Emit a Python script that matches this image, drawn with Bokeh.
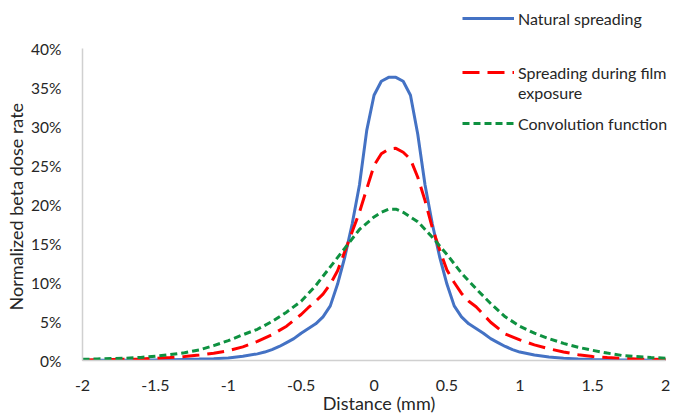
from bokeh.plotting import figure
from bokeh.models import Range1d, FixedTicker, NumeralTickFormatter, Legend, LegendItem, Title
from bokeh.embed import file_html
from bokeh.resources import INLINE

# ---- data ----
x_natural = [-2.0, -1.9, -1.8, -1.7, -1.6, -1.5, -1.4, -1.3, -1.2, -1.1, -1.0, -0.9, -0.8,
             -0.75, -0.7, -0.65, -0.6, -0.55, -0.5, -0.45, -0.4, -0.35, -0.3, -0.25, -0.2,
             -0.15, -0.1, -0.05, 0.0, 0.05, 0.1, 0.15, 0.2, 0.25, 0.3, 0.35, 0.4, 0.45, 0.5,
             0.55, 0.6, 0.65, 0.7, 0.75, 0.8, 0.85, 0.9, 0.95, 1.0, 1.1, 1.2, 1.3, 1.4, 1.5,
             1.6, 1.7, 1.8, 1.9, 2.0]
y_natural = [0.01, 0.02, 0.03, 0.04, 0.06, 0.08, 0.10, 0.14, 0.18, 0.24, 0.33, 0.55, 0.85,
             1.08, 1.4, 1.8, 2.3, 2.8, 3.5, 4.1, 4.7, 5.6, 7.0, 9.8, 13.3,
             17.5, 22.5, 29.5, 34.0, 35.8, 36.3, 36.3, 35.8, 34.0, 29.0, 22.5, 17.5, 13.3, 9.8,
             7.0, 5.6, 4.7, 4.1, 3.5, 2.8, 2.3, 1.8, 1.4, 1.08, 0.7, 0.45, 0.3, 0.2, 0.14,
             0.1, 0.07, 0.05, 0.03, 0.02]

x_film = [-2.0, -1.9, -1.8, -1.7, -1.6, -1.5, -1.4, -1.3, -1.2, -1.1, -1.0, -0.9, -0.8,
          -0.7, -0.6, -0.5, -0.45, -0.4, -0.35, -0.3, -0.25, -0.2, -0.15, -0.1, -0.05, 0.0,
          0.05, 0.1, 0.15, 0.2, 0.25, 0.3, 0.35, 0.4, 0.45, 0.5, 0.55, 0.6, 0.65, 0.7, 0.75,
          0.8, 0.9, 1.0, 1.1, 1.2, 1.3, 1.4, 1.5, 1.6, 1.7, 1.8, 1.9, 2.0]
y_film = [0.08, 0.10, 0.12, 0.15, 0.20, 0.28, 0.38, 0.5, 0.7, 0.94, 1.25, 1.75, 2.45,
          3.3, 4.4, 5.9, 6.8, 7.6, 8.5, 9.8, 11.5, 14.0, 16.5, 19.0, 22.0, 25.0,
          26.5, 27.1, 27.2, 26.7, 25.8, 23.5, 20.5, 17.0, 14.2, 11.6, 10.0, 8.6, 7.6, 6.9, 5.9,
          4.9, 3.4, 2.65, 2.0, 1.5, 1.1, 0.75, 0.5, 0.38, 0.28, 0.2, 0.15, 0.12]

x_conv = [-2.0, -1.9, -1.8, -1.7, -1.6, -1.5, -1.4, -1.3, -1.2, -1.1, -1.0, -0.9, -0.8,
          -0.7, -0.6, -0.5, -0.4, -0.3, -0.2, -0.1, 0.0, 0.05, 0.1, 0.15, 0.2, 0.3, 0.4,
          0.5, 0.6, 0.7, 0.8, 0.9, 1.0, 1.1, 1.2, 1.3, 1.4, 1.5, 1.6, 1.7, 1.8, 1.9, 2.0]
y_conv = [0.15, 0.2, 0.25, 0.3, 0.4, 0.55, 0.75, 1.0, 1.35, 1.9, 2.55, 3.3, 4.0,
          5.0, 6.2, 7.6, 9.6, 12.0, 14.4, 16.8, 18.4, 19.0, 19.4, 19.4, 19.0, 17.8, 15.8,
          13.6, 11.2, 9.2, 7.3, 5.6, 4.4, 3.5, 2.8, 2.2, 1.7, 1.3, 0.95, 0.65, 0.5, 0.38, 0.3]

x_ticks = [-2, -1.5, -1, -0.5, 0, 0.5, 1, 1.5, 2]
y_ticks = [0, 0.05, 0.10, 0.15, 0.20, 0.25, 0.30, 0.35, 0.40]
x_min_tick, x_max_tick = -2, 2
y_max_tick = 0.40

labels = ["Natural spreading", "Spreading during film", "exposure", "Convolution function"]
x_title = "Distance (mm)"
y_title = "Normalized beta dose rate"

FONT = "Lato"
TXT = "#262626"

# frame: x 78..675 px (axis drawn -2..2 over 78..665), y 2..360 px (40% at 48 px)
x_end = x_min_tick + (x_max_tick - x_min_tick) * 597 / 587
y_top = y_max_tick * 358 / 312

p = figure(width=677, height=416, output_backend="svg", toolbar_location=None,
           x_range=Range1d(x_min_tick, x_end), y_range=Range1d(0, y_top),
           min_border_left=78, min_border_right=2, min_border_top=2, min_border_bottom=56)
p.outline_line_color = None
p.xgrid.grid_line_color = None
p.ygrid.grid_line_color = None

r_nat = p.line(x_natural, [v / 100 for v in y_natural],
               line_color="#4472C4", line_width=3)
r_film = p.line(x_film, [v / 100 for v in y_film],
                line_color="#FF0000", line_width=3, line_dash="17 8")
r_conv = p.line(x_conv, [v / 100 for v in y_conv],
                line_color="#0E9140", line_width=3, line_dash="7 4")
r_dummy = p.line(x_film, [v / 100 for v in y_film], line_alpha=0)

for ax in (p.xaxis[0], p.yaxis[0]):
    ax.axis_line_color = "#D0D0D0"
    ax.axis_line_width = 1.5
    ax.major_tick_line_color = None
    ax.minor_tick_line_color = None
    ax.major_label_text_font = FONT
    ax.major_label_text_color = TXT
    ax.axis_label_text_font = FONT
    ax.axis_label_text_font_style = "normal"
    ax.axis_label_text_color = TXT

p.xaxis.ticker = FixedTicker(ticks=x_ticks)
p.xaxis.formatter = NumeralTickFormatter(format="0.[0]")
p.xaxis.bounds = (x_min_tick, x_max_tick)
p.xaxis.axis_label = x_title
p.xaxis.major_label_text_font_size = "16px"
p.xaxis.axis_label_text_font_size = "18px"
p.xaxis.major_label_standoff = 13
p.xaxis.axis_label_standoff = -2

p.yaxis.ticker = FixedTicker(ticks=y_ticks)
p.yaxis.formatter = NumeralTickFormatter(format="0%")
p.yaxis.bounds = (0, y_max_tick)
p.yaxis.major_label_text_font_size = "15.5px"
p.yaxis.major_label_standoff = 15

yt = Title(text=y_title, align="left", offset=50, standoff=4,
           text_font=FONT, text_font_size="18px", text_font_style="normal",
           text_color=TXT)
p.add_layout(yt, "left")


def make_legend(items, loc, lh):
    lg = Legend(items=items, location=loc, padding=0, margin=0, spacing=0,
                border_line_alpha=0, background_fill_alpha=0,
                glyph_width=52, glyph_height=lh, label_height=lh, label_standoff=4,
                label_text_font=FONT, label_text_font_size="16px", label_text_color=TXT)
    p.add_layout(lg, "center")


make_legend([LegendItem(label=labels[0], renderers=[r_nat])], (380, 332), 20)
make_legend([LegendItem(label=labels[1], renderers=[r_film]),
             LegendItem(label=labels[2], renderers=[r_dummy])], (380, 258), 20)
make_legend([LegendItem(label=labels[3], renderers=[r_conv])], (380, 227), 20)

open("out.html", "w").write(file_html(p, INLINE))
